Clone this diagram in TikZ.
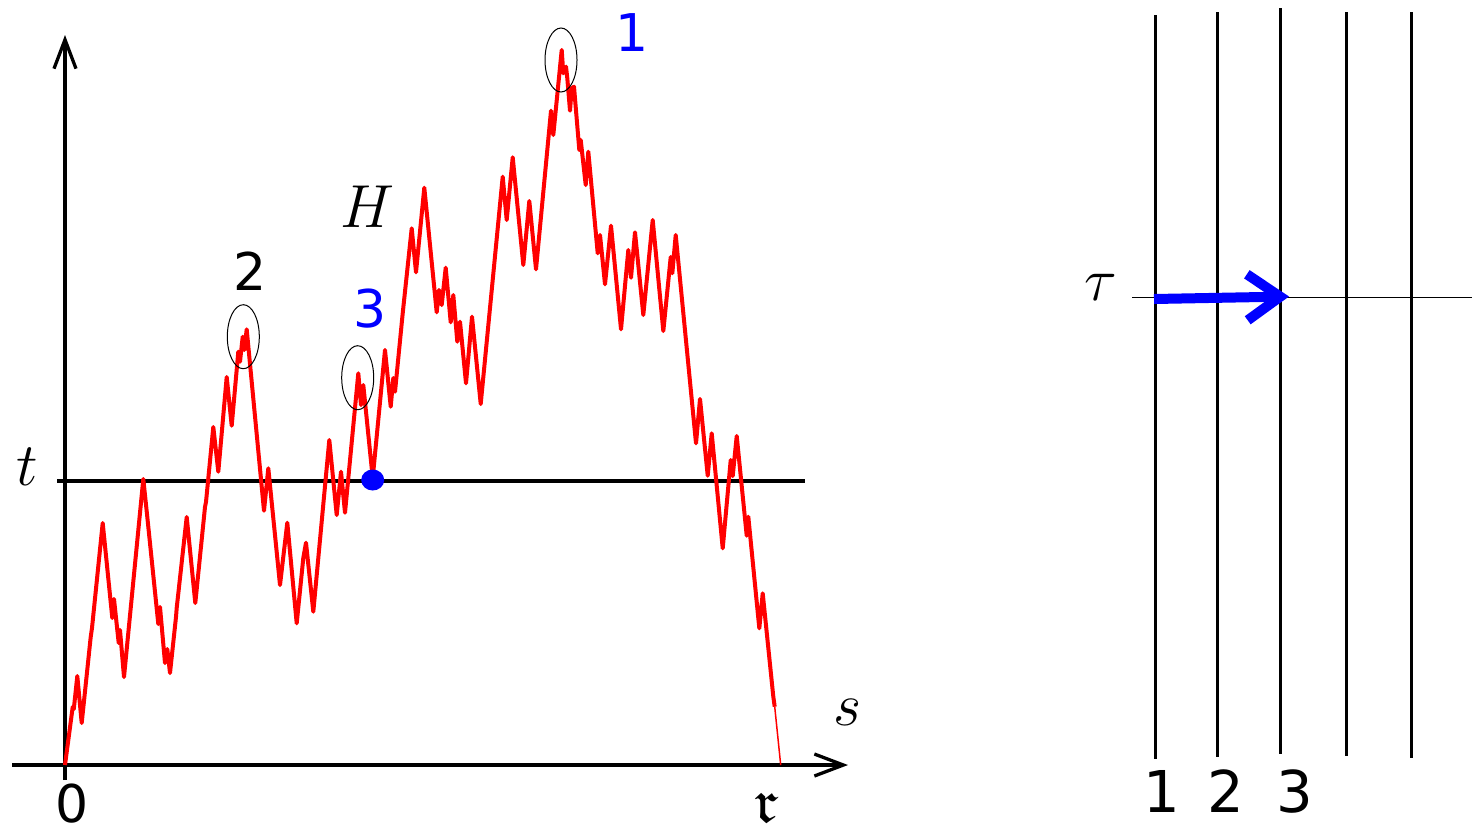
\documentclass[tikz,border=0pt]{standalone}
\usepackage{amssymb}
\usepackage{fontspec}
\newfontfamily\digitfont{DejaVu Sans}
\usetikzlibrary{arrows.meta,shapes.geometric}
\begin{document}
\begin{tikzpicture}[x=0.1mm,y=-0.1mm,
  axis/.style={line width=0.33mm,-{Straight Barb[length=2.9mm,width=2.2mm]}},
  redpath/.style={red,line width=0.4mm,line join=round},
  peak/.style={draw,line width=0.1mm,ellipse,minimum width=3.2mm,minimum height=6.4mm,inner sep=0pt},
  numlab/.style={font=\digitfont\fontsize{14.8}{17}\selectfont,inner sep=0pt},
  bignum/.style={font=\digitfont\fontsize{16.4}{19}\selectfont,inner sep=0pt},
  mathlab/.style={font=\fontsize{17.5}{20}\selectfont,inner sep=0pt},
  vline/.style={line width=0.3mm},
]
\useasboundingbox (0,0) rectangle (1472,833);
% axes
\coordinate (xs) at (12,765);
\coordinate (xe) at (848,765);
\coordinate (ys) at (65,780);
\coordinate (ye) at (65,35);
\draw[axis] (xs) -- (xe);
\draw[axis] (ys) -- (ye);
% level t
\coordinate (ts) at (57,481);
\coordinate (te) at (805,481);
\draw[line width=0.33mm] (ts) -- (te);
% red path
\draw[redpath] (65,765) -- (72.7,707) -- (73.8,709) -- (77.3,676) -- (81.7,723) -- (90.7,637) -- (92,628)
 -- (102.7,523) -- (112.3,618) -- (114,599) -- (118.7,643) -- (120,630) -- (124,677) -- (143.3,479)
 -- (147.3,517) -- (158.3,624) -- (160,607) -- (165,663) -- (167.3,649) -- (170,673) -- (176,617)
 -- (176.7,608) -- (186.7,517) -- (195.3,603) -- (205,507) -- (206,502) -- (213.3,427) -- (218.3,471.7)
 -- (226.7,377) -- (231.7,425.7) -- (238.3,351.7) -- (240,361.7) -- (242.7,336.7) -- (244.3,350)
 -- (246.7,329.3) -- (264,510.7) -- (268.3,468.3) -- (280,585) -- (287.3,522.7) -- (296.7,623.3)
 -- (303.3,558) -- (306,542.7) -- (313.3,611.7) -- (329.3,440) -- (336.7,515) -- (341,471.7)
 -- (345,512.7) -- (358.3,373.3) -- (361,405) -- (363.3,385) -- (372.7,478) -- (385,350)
 -- (390.7,406.7) -- (393.3,378) -- (395,391.7) -- (402.7,313.3) -- (411.7,228.3) -- (416,272.3)
 -- (424.3,187.7) -- (436.7,312.3) -- (439,290) -- (441.7,305) -- (445.7,267.7) -- (450.7,322.3)
 -- (453.3,295) -- (457.3,341.7) -- (460,321.7) -- (466,383.3) -- (472,316.7) -- (480.7,404)
 -- (502.7,176.7) -- (506.7,220) -- (512.7,157.3) -- (523.3,265) -- (529.3,201) -- (536,269.3)
 -- (551,110.7) -- (553.3,135) -- (561.7,50) -- (563.3,73.3) -- (566,66.7) -- (567.3,78.3)
 -- (570,110.7) -- (571.7,88.3) -- (574,86.7) -- (579.3,150) -- (580.7,140) -- (585.7,185)
 -- (588.3,151.7) -- (597.7,253.3) -- (600,235) -- (605,284.3) -- (611,225.7) -- (621,329.3)
 -- (628.3,250) -- (631,277.7) -- (635,232.3) -- (643.3,315) -- (652.7,220) -- (663.3,331)
 -- (670.7,257) -- (672.3,273.3) -- (675.7,235) -- (696,443.3) -- (700,399) -- (707.7,475.7)
 -- (711.7,433.3) -- (722.7,548.3) -- (730.7,460) -- (732.7,476) -- (736.7,436) -- (746.7,535.7)
 -- (748.3,516.7) -- (759.3,628.3) -- (762.7,593.3) -- (773.3,696.7) -- (774.7,706.7);
\draw[red,line width=0.15mm] (774.7,706.7) -- (780.7,765);
% ellipses around peaks
\node[peak] (e2) at (243.3,336.7) {};
\node[peak] (e3) at (357.7,377.7) {};
\node[peak] (e1) at (561,60) {};
% blue dot
\fill[blue] (372.7,480) ellipse [x radius=11.5, y radius=10.5];
% labels
\node[numlab] (l2) at (250,271) {2};
\node[numlab,blue] (l3) at (370,309) {3};
\node[numlab,blue] (l1) at (632,33) {1};
\node[numlab] (l0) at (72,804) {0};
\node[mathlab] (lH) at (367,207) {$H$};
\node[mathlab] (lt) at (27,467) {$t$};
\node[mathlab] (ls) at (847,712) {$s$};
\node[mathlab] (lr) at (766,808) {$\mathfrak{r}$};
% right panel
\coordinate (hs) at (1132,297);
\coordinate (he) at (1472,297);
\draw[line width=0.1mm] (hs) -- (he);
\coordinate (v1t) at (1155,15);  \coordinate (v1b) at (1155,759);
\coordinate (v2t) at (1217,12);  \coordinate (v2b) at (1217,757);
\coordinate (v3t) at (1280,8);   \coordinate (v3b) at (1280,754);
\coordinate (v4t) at (1346,12);  \coordinate (v4b) at (1346,756);
\coordinate (v5t) at (1411,12);  \coordinate (v5b) at (1411,758);
\foreach \i in {1,...,5} {\draw[vline] (v\i t) -- (v\i b);}
\coordinate (as) at (1154,299);
\coordinate (ae) at (1289,296.5);
\draw[blue,line width=1mm,-{Straight Barb[length=3.3mm,width=4.6mm]}] (as) -- (ae);
\node[mathlab] (ltau) at (1101,287) {$\tau$};
\node[bignum] (r1) at (1162,791) {1};
\node[bignum] (r2) at (1226,791) {2};
\node[bignum] (r3) at (1295,791) {3};
\end{tikzpicture}
\end{document}
